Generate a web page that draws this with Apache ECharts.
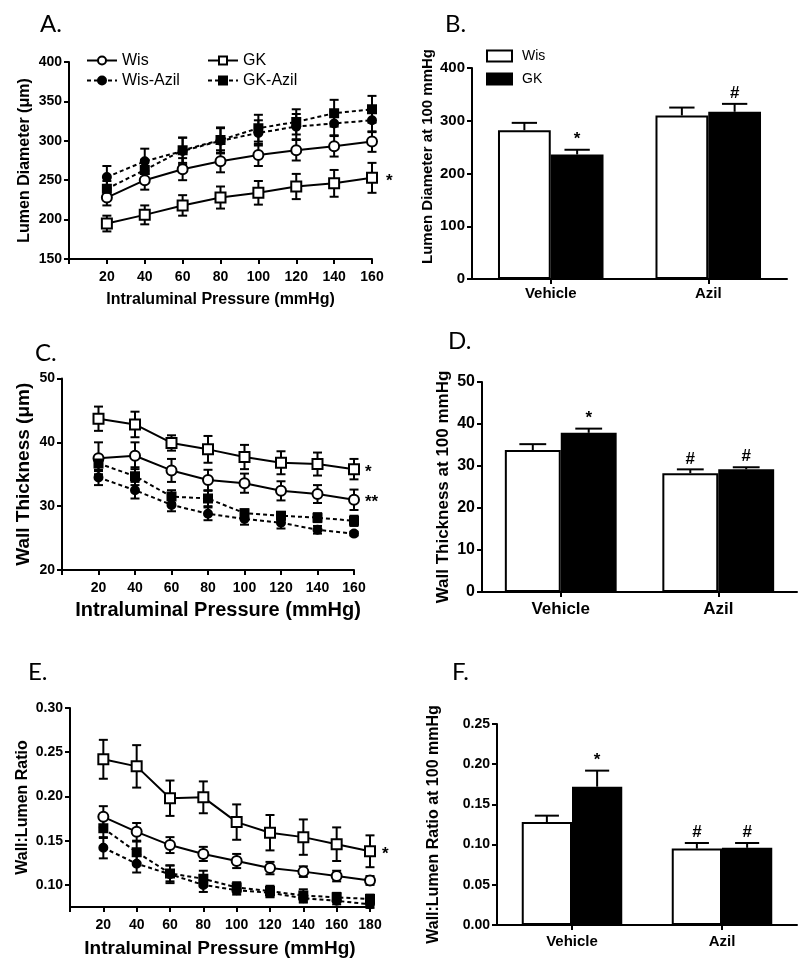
<!DOCTYPE html>
<html><head><meta charset="utf-8">
<script src="https://cdn.jsdelivr.net/npm/echarts@6/dist/echarts.min.js"></script>
<style>html,body{margin:0;padding:0;background:#fff}#c{width:800px;height:972px}</style>
</head><body><div id="c"></div>
<script>
// ---------- DATA ----------
const pressure = [20, 40, 60, 80, 100, 120, 140, 160];
const pressureE = [20, 40, 60, 80, 100, 120, 140, 160, 180];
const barGroups = ['Vehicle', 'Azil'];

// A. Lumen diameter (µm)
const lumenWis = [228, 250, 264, 274, 282, 288, 293, 299];
const lumenWisErr = [10, 12, 14, 14, 14, 13, 13, 13];
const lumenGK = [195, 206, 218, 228, 234, 242, 246, 253];
const lumenGKErr = [10, 12, 13, 14, 15, 16, 17, 19];
const lumenWisAzil = [254, 274, 287, 300, 310, 318, 322, 326];
const lumenWisAzilErr = [14, 16, 17, 16, 16, 16, 15, 15];
const lumenGKAzil = [239, 263, 288, 301, 316, 324, 335, 340];
const lumenGKAzilErr = [10, 13, 16, 16, 17, 16, 17, 17];

// B. Lumen diameter at 100 mmHg
const lumen100Wis = [282, 310];
const lumen100WisErr = [14, 15];
const lumen100GK = [236, 317];
const lumen100GKErr = [9, 15];
const lumen100WisSig = ['', ''];
const lumen100GKSig = ['*', '#'];

// C. Wall thickness (µm)
const wallWis = [37.5, 37.9, 35.6, 34.1, 33.6, 32.4, 31.9, 31.0];
const wallWisErr = [2.5, 2.1, 1.8, 1.6, 1.5, 1.5, 1.4, 1.6];
const wallGK = [43.7, 42.8, 39.9, 38.9, 37.7, 36.8, 36.6, 35.8];
const wallGKErr = [1.9, 2.0, 1.2, 2.1, 1.9, 1.8, 1.8, 1.6];
const wallWisAzil = [34.5, 32.5, 30.2, 28.8, 28.0, 27.4, 26.3, 25.7];
const wallWisAzilErr = [1.2, 1.3, 1.0, 1.0, 0.9, 0.9, 0.6, 0.3];
const wallGKAzil = [36.7, 34.7, 31.5, 31.2, 28.9, 28.5, 28.2, 27.7];
const wallGKAzilErr = [1.2, 1.4, 1.0, 1.2, 0.6, 0.6, 0.7, 0.8];

// D. Wall thickness at 100 mmHg
const wall100Wis = [33.8, 28.3];
const wall100WisErr = [1.4, 0.9];
const wall100GK = [37.9, 29.2];
const wall100GKErr = [1.0, 0.5];
const wall100WisSig = ['', '#'];
const wall100GKSig = ['*', '#'];

// E. Wall:Lumen ratio
const ratioWis = [0.177, 0.160, 0.145, 0.135, 0.127, 0.119, 0.115, 0.110, 0.105];
const ratioWisErr = [0.012, 0.010, 0.009, 0.008, 0.008, 0.007, 0.006, 0.006, 0.005];
const ratioGK = [0.242, 0.234, 0.198, 0.199, 0.171, 0.159, 0.154, 0.146, 0.138];
const ratioGKErr = [0.022, 0.024, 0.020, 0.018, 0.020, 0.020, 0.020, 0.019, 0.018];
const ratioWisAzil = [0.142, 0.124, 0.112, 0.100, 0.094, 0.091, 0.085, 0.082, 0.078];
const ratioWisAzilErr = [0.012, 0.010, 0.010, 0.008, 0.005, 0.005, 0.005, 0.004, 0.004];
const ratioGKAzil = [0.164, 0.137, 0.113, 0.107, 0.097, 0.093, 0.088, 0.086, 0.084];
const ratioGKAzilErr = [0.011, 0.012, 0.009, 0.009, 0.006, 0.006, 0.007, 0.005, 0.005];

// F. Wall:Lumen ratio at 100 mmHg
const ratio100Wis = [0.128, 0.095];
const ratio100WisErr = [0.008, 0.007];
const ratio100GK = [0.172, 0.096];
const ratio100GKErr = [0.020, 0.006];
const ratio100WisSig = ['', '#'];
const ratio100GKSig = ['*', '#'];

// tick labels
const ticksE = [0.10, 0.15, 0.20, 0.25, 0.30];

// ---------- STYLE / BUILD ----------
const FONT = 'Liberation Sans';
const BLACK = '#000';

const grids = [
  {left: 69, top: 62, width: 303, height: 197},
  {left: 472, top: 68, width: 315, height: 211},
  {left: 62, top: 378.5, width: 292, height: 191.5},
  {left: 482, top: 382, width: 315, height: 210},
  {left: 70, top: 708, width: 300, height: 199},
  {left: 497, top: 724, width: 300, height: 201}
];

function axisBase(gi, fontSize) {
  return {
    gridIndex: gi,
    axisLine: {show: true, onZero: false, lineStyle: {color: BLACK, width: 2}},
    axisTick: {show: true, length: 5, lineStyle: {color: BLACK, width: 2}},
    splitLine: {show: false},
    axisLabel: {color: BLACK, fontFamily: FONT, fontWeight: 'bold', fontSize: fontSize || 14}
  };
}
function nameStyle(size) {
  return {fontFamily: FONT, fontWeight: 'bold', fontSize: size, color: BLACK};
}

function xPressure(gi, max, titleSize, gap, pad) {
  const a = axisBase(gi, 14);
  return Object.assign(a, {
    type: 'value', min: 0, max: max, interval: 20,
    axisLabel: Object.assign(a.axisLabel, {margin: 11, formatter: v => v === 0 ? '' : v}),
    name: 'Intraluminal Pressure (mmHg)', nameLocation: 'middle', nameGap: gap,
    nameTextStyle: Object.assign(nameStyle(titleSize), {padding: pad || 0})
  });
}
function xCat(gi, fontSize, margin) {
  const a = axisBase(gi, fontSize);
  return Object.assign(a, {
    type: 'category', data: barGroups,
    axisTick: Object.assign(a.axisTick, {alignWithLabel: true}),
    axisLabel: Object.assign(a.axisLabel, {margin: margin})
  });
}
function yVal(gi, min, max, interval, name, size, gap, fontSize, decimals) {
  const a = axisBase(gi, fontSize);
  a.axisLabel.margin = 7;
  if (decimals) a.axisLabel.formatter = v => v.toFixed(decimals);
  const o = Object.assign(a, {
    type: 'value', min: min, max: max,
    name: name, nameLocation: 'middle', nameGap: gap, nameRotate: 90,
    nameTextStyle: nameStyle(size)
  });
  if (interval) o.interval = interval;
  return o;
}

const lineStyles = {
  'Wis': {symbol: 'circle', size: 10, fill: '#fff', dash: 'solid'},
  'GK': {symbol: 'rect', size: 10, fill: '#fff', dash: 'solid'},
  'Wis-Azil': {symbol: 'circle', size: 8, fill: BLACK, dash: [4, 3]},
  'GK-Azil': {symbol: 'rect', size: 8, fill: BLACK, dash: [4, 3]}
};

function lineSeries(name, gi, xs, ys) {
  const s = lineStyles[name];
  return {
    type: 'line', name: name, xAxisIndex: gi, yAxisIndex: gi, z: 3,
    data: xs.map((x, i) => [x, ys[i]]),
    symbol: s.symbol, symbolSize: s.size, showSymbol: true,
    itemStyle: {color: s.fill, borderColor: BLACK, borderWidth: 2},
    lineStyle: {color: BLACK, width: 2, type: s.dash},
    emphasis: {disabled: true}, animation: false
  };
}
function errSeries(gi, xs, ys, es) {
  return {
    type: 'custom', xAxisIndex: gi, yAxisIndex: gi, z: 2, silent: true, animation: false,
    data: xs.map((x, i) => [x, ys[i], es[i]]),
    encode: {x: 0, y: 1},
    renderItem: (p, api) => {
      const x = api.value(0), y = api.value(1), e = api.value(2);
      const t = api.coord([x, y + e]), b = api.coord([x, y - e]);
      const w = 4.5, st = {stroke: BLACK, lineWidth: 2};
      return {type: 'group', children: [
        {type: 'line', shape: {x1: t[0], y1: t[1], x2: b[0], y2: b[1]}, style: st},
        {type: 'line', shape: {x1: t[0] - w, y1: t[1], x2: t[0] + w, y2: t[1]}, style: st},
        {type: 'line', shape: {x1: b[0] - w, y1: b[1], x2: b[0] + w, y2: b[1]}, style: st}
      ]};
    }
  };
}
function sigText(text, x, y, size, align, vAlign) {
  return {type: 'text', x: x, y: y,
    style: {text: text, fill: BLACK, fontFamily: FONT, fontWeight: 'bold', fontSize: size,
      align: align, verticalAlign: vAlign}};
}
function endMark(gi, x, y, text, dx) {
  return {
    type: 'custom', xAxisIndex: gi, yAxisIndex: gi, z: 4, silent: true, animation: false,
    data: [[x, y]], encode: {x: 0, y: 1},
    renderItem: (p, api) => {
      const c = api.coord([api.value(0), api.value(1)]);
      return sigText(text, c[0] + dx, c[1] + 3, 17, 'left', 'middle');
    }
  };
}

function barSeries(name, gi, vals, filled, gap) {
  return {
    type: 'bar', name: name, xAxisIndex: gi, yAxisIndex: gi, data: vals, z: 2,
    barGap: '0%', barCategoryGap: gap,
    itemStyle: {color: filled ? BLACK : '#fff', borderColor: BLACK, borderWidth: 2},
    emphasis: {disabled: true}, animation: false
  };
}
function barErr(gi, vals, errs, sigs, side, gapFrac) {
  return {
    type: 'custom', xAxisIndex: gi, yAxisIndex: gi, z: 3, silent: true, animation: false,
    data: vals.map((v, i) => [i, v, errs[i]]),
    encode: {x: 0, y: 1},
    renderItem: (p, api) => {
      const i = api.value(0), v = api.value(1), e = api.value(2);
      const c0 = api.coord([0, 0]), c1 = api.coord([1, 0]);
      const band = Math.abs(c1[0] - c0[0]);
      const bw = band * (1 - gapFrac) / 2;
      const base = api.coord([i, v]), top = api.coord([i, v + e]);
      const x = base[0] + (side < 0 ? -bw / 2 : bw / 2);
      const w = bw * 0.24, st = {stroke: BLACK, lineWidth: 2};
      const ch = [
        {type: 'line', shape: {x1: x, y1: base[1], x2: x, y2: top[1]}, style: st},
        {type: 'line', shape: {x1: x - w, y1: top[1], x2: x + w, y2: top[1]}, style: st}
      ];
      const s = sigs[p.dataIndex];
      if (s) ch.push(sigText(s, x, top[1] - 2, 17, 'center', 'bottom'));
      return {type: 'group', children: ch};
    }
  };
}

const panelTitle = (t, left, top) => ({text: t, left: left, top: top, padding: 0,
  textStyle: {fontFamily: 'Lato', fontWeight: 'normal', fontSize: 24, color: BLACK}});

const last = a => a[a.length - 1];

const yE = yVal(4, 0.075, 0.30, null, 'Wall:Lumen Ratio', 16, 39, 14, 2);
yE.axisLabel.customValues = ticksE;
yE.axisTick.customValues = ticksE;

const option = {
  backgroundColor: '#fff',
  animation: false,
  title: [
    panelTitle('A.', 40, 12), panelTitle('B.', 445, 12),
    panelTitle('C.', 35, 341), panelTitle('D.', 448, 329),
    panelTitle('E.', 28, 660), panelTitle('F.', 452, 660)
  ],
  legend: [
    {data: ['Wis', 'Wis-Azil'], orient: 'vertical', left: 81, top: 47, itemWidth: 30, itemHeight: 10, itemGap: 3,
      selectedMode: false, textStyle: {fontFamily: FONT, fontSize: 16, color: BLACK, lineHeight: 17}},
    {data: ['GK', 'GK-Azil'], orient: 'vertical', left: 202, top: 47, itemWidth: 30, itemHeight: 10, itemGap: 3,
      selectedMode: false, textStyle: {fontFamily: FONT, fontSize: 16, color: BLACK, lineHeight: 17}},
    {data: ['Wis bar', 'GK bar'], orient: 'vertical', left: 481, top: 43, icon: 'rect', itemWidth: 25, itemHeight: 11, itemGap: 7,
      selectedMode: false, formatter: n => n.replace(' bar', ''),
      textStyle: {fontFamily: FONT, fontSize: 14, color: BLACK, lineHeight: 16, padding: [0, 0, 0, 5]}}
  ],
  grid: grids,
  xAxis: [
    xPressure(0, 160, 16, 33),
    xCat(1, 15, 7),
    xPressure(2, 160, 20, 30, [0, 0, 0, 20]),
    xCat(3, 17, 9),
    xPressure(4, 180, 19, 32),
    xCat(5, 15, 9)
  ],
  yAxis: [
    yVal(0, 150, 400, 50, 'Lumen Diameter (μm)', 16, 36, 14),
    Object.assign(yVal(1, 0, 400, 100, 'Lumen Diameter at 100 mmHg', 15, 37, 15),
      {nameTextStyle: Object.assign(nameStyle(15), {padding: [0, 0, 0, 34]})}),
    yVal(2, 20, 50, 10, 'Wall Thickness (μm)', 19, 29, 14),
    yVal(3, 0, 50, 10, 'Wall Thickness at 100 mmHg', 17, 30, 16),
    yE,
    yVal(5, 0, 0.25, 0.05, 'Wall:Lumen Ratio at 100 mmHg', 16, 55, 14, 2)
  ],
  series: [
    // A
    errSeries(0, pressure, lumenWis, lumenWisErr),
    errSeries(0, pressure, lumenGK, lumenGKErr),
    errSeries(0, pressure, lumenWisAzil, lumenWisAzilErr),
    errSeries(0, pressure, lumenGKAzil, lumenGKAzilErr),
    lineSeries('Wis', 0, pressure, lumenWis),
    lineSeries('Wis-Azil', 0, pressure, lumenWisAzil),
    lineSeries('GK', 0, pressure, lumenGK),
    lineSeries('GK-Azil', 0, pressure, lumenGKAzil),
    endMark(0, last(pressure), last(lumenGK), '*', 14),
    // B
    barSeries('Wis bar', 1, lumen100Wis, false, '33%'),
    barSeries('GK bar', 1, lumen100GK, true, '33%'),
    barErr(1, lumen100Wis, lumen100WisErr, lumen100WisSig, -1, 0.33),
    barErr(1, lumen100GK, lumen100GKErr, lumen100GKSig, 1, 0.33),
    // C
    errSeries(2, pressure, wallWis, wallWisErr),
    errSeries(2, pressure, wallGK, wallGKErr),
    errSeries(2, pressure, wallWisAzil, wallWisAzilErr),
    errSeries(2, pressure, wallGKAzil, wallGKAzilErr),
    lineSeries('Wis', 2, pressure, wallWis),
    lineSeries('Wis-Azil', 2, pressure, wallWisAzil),
    lineSeries('GK', 2, pressure, wallGK),
    lineSeries('GK-Azil', 2, pressure, wallGKAzil),
    endMark(2, last(pressure), last(wallGK), '*', 11),
    endMark(2, last(pressure), last(wallWis), '**', 11),
    // D
    barSeries('Wis bar', 3, wall100Wis, false, '29%'),
    barSeries('GK bar', 3, wall100GK, true, '29%'),
    barErr(3, wall100Wis, wall100WisErr, wall100WisSig, -1, 0.29),
    barErr(3, wall100GK, wall100GKErr, wall100GKSig, 1, 0.29),
    // E
    errSeries(4, pressureE, ratioWis, ratioWisErr),
    errSeries(4, pressureE, ratioGK, ratioGKErr),
    errSeries(4, pressureE, ratioWisAzil, ratioWisAzilErr),
    errSeries(4, pressureE, ratioGKAzil, ratioGKAzilErr),
    lineSeries('Wis', 4, pressureE, ratioWis),
    lineSeries('Wis-Azil', 4, pressureE, ratioWisAzil),
    lineSeries('GK', 4, pressureE, ratioGK),
    lineSeries('GK-Azil', 4, pressureE, ratioGKAzil),
    endMark(4, last(pressureE), last(ratioGK), '*', 12),
    // F
    barSeries('Wis bar', 5, ratio100Wis, false, '33%'),
    barSeries('GK bar', 5, ratio100GK, true, '33%'),
    barErr(5, ratio100Wis, ratio100WisErr, ratio100WisSig, -1, 0.33),
    barErr(5, ratio100GK, ratio100GKErr, ratio100GKSig, 1, 0.33)
  ]
};

const chart = echarts.init(document.getElementById('c'), null, {renderer: 'canvas'});
chart.setOption(option);
</script>
</body></html>
